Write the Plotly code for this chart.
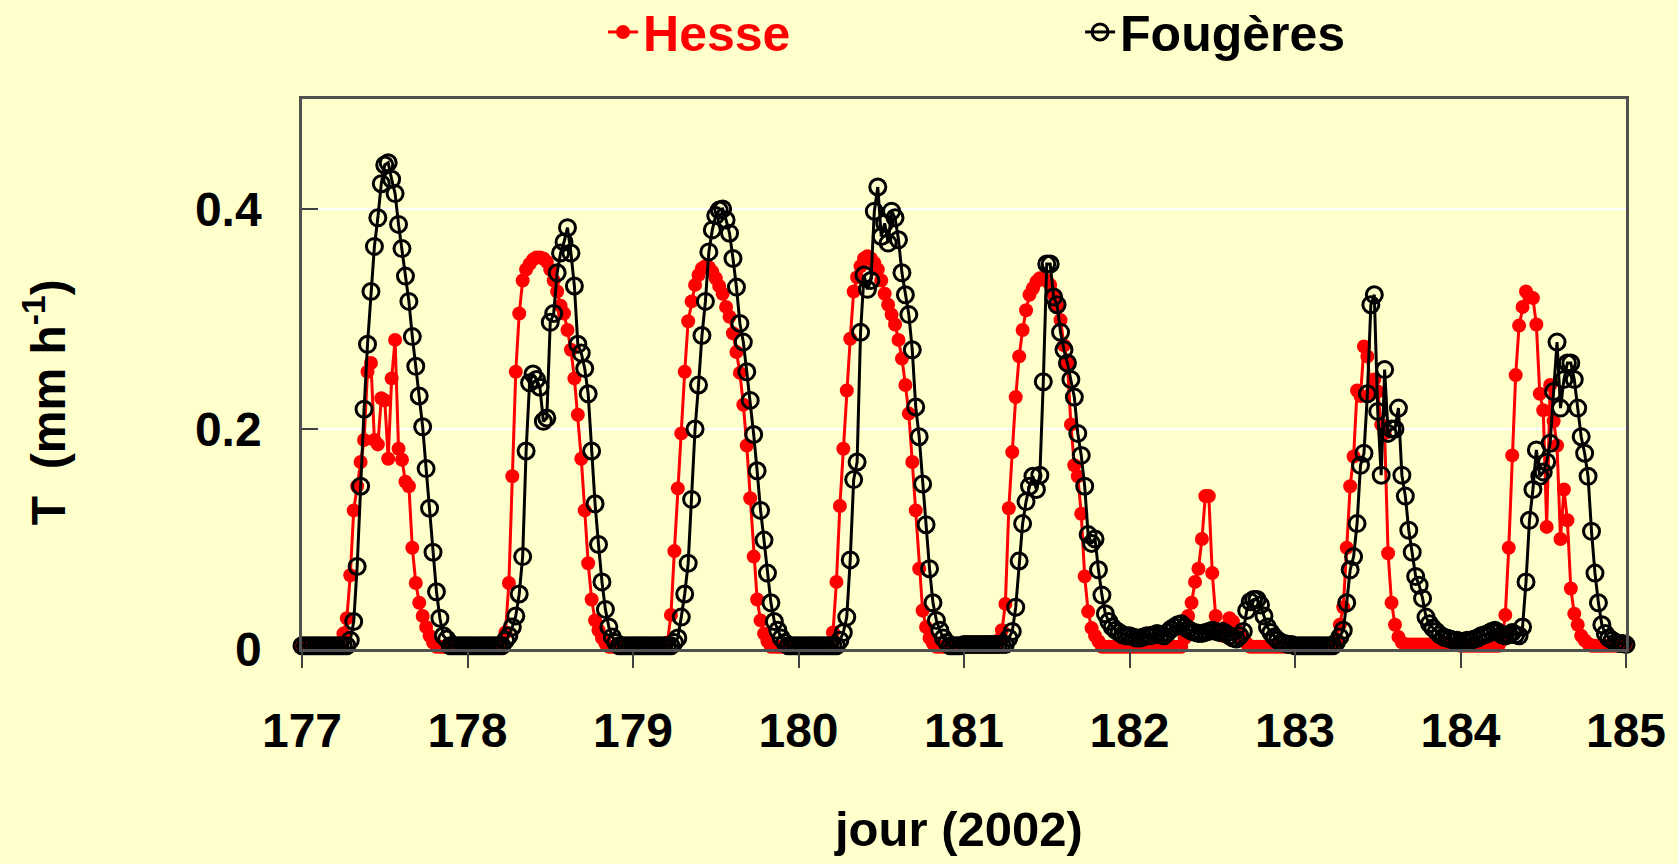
import numpy as np
import plotly.graph_objects as go

# ---------------- data (half-hourly transpiration, mm h-1) ----------------
hesse_177 = [0.002,0.002,0.002,0.002,0.002,0.002,0.002,0.002,0.002,0.002,0.002,0.002,
             0.014,0.028,0.067,0.126,0.148,0.170,0.190,0.252,0.260,0.190,0.186,0.228,
             0.226,0.173,0.246,0.281,0.182,0.172,0.152,0.148,0.092,0.060,0.042,0.030,
             0.020,0.012,0.006,0.002,0.002,0.002,0.002,0.002,0.002,0.002,0.002,0.002]
hesse_178 = [0.002,0.002,0.002,0.002,0.002,0.002,0.002,0.002,0.002,0.002,0.006,0.015,
             0.060,0.157,0.252,0.305,0.335,0.345,0.350,0.354,0.356,0.356,0.355,0.352,
             0.345,0.335,0.325,0.312,0.305,0.290,0.272,0.246,0.213,0.173,0.126,0.078,
             0.045,0.026,0.017,0.010,0.005,0.002,0.002,0.002,0.002,0.002,0.002,0.002]
hesse_179 = [0.002,0.002,0.002,0.002,0.002,0.002,0.002,0.002,0.002,0.002,0.006,0.031,
             0.089,0.146,0.196,0.252,0.298,0.316,0.331,0.340,0.346,0.348,0.347,0.343,
             0.337,0.330,0.323,0.311,0.302,0.287,0.270,0.251,0.222,0.185,0.137,0.084,
             0.045,0.026,0.014,0.007,0.002,0.002,0.002,0.002,0.002,0.002,0.002,0.002]
hesse_180 = [0.002,0.002,0.002,0.002,0.002,0.002,0.002,0.002,0.002,0.002,0.015,0.061,
             0.130,0.182,0.235,0.282,0.325,0.338,0.348,0.355,0.357,0.355,0.351,0.345,
             0.335,0.323,0.313,0.304,0.295,0.281,0.264,0.240,0.214,0.170,0.126,0.073,
             0.035,0.020,0.010,0.005,0.002,0.002,0.002,0.002,0.002,0.002,0.002,0.002]
hesse_181 = [0.002,0.002,0.002,0.002,0.002,0.002,0.002,0.002,0.002,0.002,0.008,0.017,
             0.041,0.128,0.179,0.229,0.266,0.290,0.308,0.322,0.328,0.334,0.337,0.336,
             0.335,0.331,0.322,0.312,0.299,0.276,0.260,0.204,0.167,0.157,0.123,0.066,
             0.034,0.019,0.012,0.007,0.002,0.002,0.002,0.002,0.002,0.002,0.002,0.002]
hesse_182 = [0.002,0.002,0.002,0.002,0.002,0.002,0.002,0.002,0.002,0.002,0.002,0.002,
             0.002,0.002,0.002,0.002,0.010,0.030,0.042,0.061,0.073,0.100,0.139,0.139,
             0.069,0.030,0.015,0.012,0.020,0.028,0.025,0.018,0.012,0.008,0.005,0.002,
             0.002,0.002,0.002,0.002,0.002,0.002,0.002,0.002,0.002,0.002,0.002,0.002]
hesse_183 = [0.002,0.002,0.002,0.002,0.002,0.002,0.002,0.002,0.002,0.002,0.002,0.002,
             0.008,0.022,0.038,0.092,0.148,0.175,0.235,0.230,0.275,0.266,0.232,0.245,
             0.234,0.204,0.196,0.087,0.042,0.022,0.011,0.006,0.004,0.004,0.004,0.004,
             0.004,0.004,0.004,0.004,0.004,0.004,0.004,0.004,0.004,0.004,0.004,0.004]
hesse_184 = [0.003,0.003,0.003,0.003,0.003,0.003,0.003,0.003,0.003,0.003,0.003,0.003,
             0.008,0.031,0.092,0.176,0.249,0.294,0.311,0.325,0.320,0.319,0.295,0.232,
             0.217,0.111,0.240,0.207,0.185,0.100,0.145,0.117,0.055,0.032,0.022,0.012,
             0.008,0.005,0.003,0.003,0.003,0.003,0.003,0.003,0.003,0.003,0.003,0.003]
hesse_185 = [0.003]

foug_177 = [0.003,0.003,0.003,0.003,0.003,0.003,0.003,0.003,0.003,0.003,0.003,0.003,
            0.003,0.003,0.008,0.025,0.075,0.148,0.218,0.277,0.325,0.366,0.392,0.423,
            0.440,0.442,0.427,0.414,0.386,0.364,0.339,0.316,0.284,0.257,0.230,0.202,
            0.164,0.128,0.088,0.052,0.028,0.012,0.009,0.003,0.003,0.003,0.003,0.003]
foug_178 = [0.003,0.003,0.003,0.003,0.003,0.003,0.003,0.003,0.003,0.003,0.003,0.008,
            0.012,0.020,0.030,0.050,0.084,0.180,0.242,0.250,0.245,0.238,0.207,0.210,
            0.297,0.305,0.342,0.360,0.370,0.383,0.360,0.330,0.277,0.269,0.255,0.232,
            0.180,0.132,0.095,0.061,0.036,0.020,0.011,0.006,0.003,0.003,0.003,0.003]
foug_179 = [0.003,0.003,0.003,0.003,0.003,0.003,0.003,0.003,0.003,0.003,0.003,0.003,
            0.006,0.010,0.029,0.050,0.078,0.136,0.200,0.240,0.285,0.316,0.361,0.381,
            0.394,0.399,0.400,0.390,0.378,0.355,0.329,0.296,0.279,0.252,0.226,0.195,
            0.162,0.126,0.099,0.069,0.042,0.025,0.017,0.010,0.006,0.003,0.003,0.003]
foug_180 = [0.003,0.003,0.003,0.003,0.003,0.003,0.003,0.003,0.003,0.003,0.003,0.003,
            0.008,0.015,0.029,0.081,0.154,0.170,0.288,0.340,0.327,0.335,0.398,0.420,
            0.375,0.387,0.369,0.398,0.392,0.372,0.342,0.322,0.304,0.272,0.220,0.193,
            0.150,0.113,0.073,0.042,0.026,0.017,0.010,0.006,0.003,0.003,0.003,0.003]
foug_181 = [0.004,0.004,0.004,0.004,0.004,0.004,0.004,0.004,0.004,0.004,0.004,0.004,
            0.004,0.010,0.016,0.038,0.080,0.114,0.134,0.148,0.157,0.145,0.158,0.243,
            0.350,0.350,0.320,0.313,0.288,0.272,0.260,0.245,0.229,0.196,0.176,0.148,
            0.104,0.096,0.100,0.072,0.049,0.032,0.025,0.020,0.017,0.015,0.013,0.012]
foug_182 = [0.012,0.011,0.010,0.010,0.011,0.012,0.012,0.013,0.014,0.013,0.012,0.015,
            0.018,0.020,0.022,0.023,0.020,0.018,0.016,0.015,0.014,0.014,0.015,0.016,
            0.017,0.016,0.015,0.016,0.014,0.012,0.010,0.009,0.012,0.016,0.035,0.043,
            0.045,0.045,0.040,0.030,0.020,0.015,0.011,0.008,0.006,0.005,0.004,0.004]
foug_183 = [0.003,0.003,0.003,0.003,0.003,0.003,0.003,0.003,0.003,0.003,0.003,0.003,
            0.006,0.011,0.017,0.042,0.072,0.084,0.114,0.167,0.178,0.232,0.313,0.322,
            0.216,0.158,0.254,0.196,0.200,0.200,0.219,0.158,0.139,0.108,0.088,0.066,
            0.058,0.046,0.029,0.023,0.019,0.016,0.013,0.011,0.010,0.009,0.008,0.008]
foug_184 = [0.006,0.007,0.008,0.008,0.009,0.010,0.012,0.013,0.014,0.016,0.017,0.015,
            0.013,0.012,0.013,0.015,0.013,0.012,0.020,0.061,0.117,0.145,0.181,0.157,
            0.161,0.170,0.187,0.234,0.279,0.219,0.245,0.260,0.260,0.245,0.219,0.193,
            0.178,0.157,0.107,0.069,0.042,0.022,0.014,0.010,0.008,0.006,0.005,0.005]
foug_185 = [0.004]

x_ticks = [177, 178, 179, 180, 181, 182, 183, 184, 185]
y_ticks = [0, 0.2, 0.4]
y_tick_labels = ["0", "0.2", "0.4"]
series_names = ["Hesse", "Fougères"]
x_title = "jour (2002)"
y_title = "T&nbsp; (mm h<sup>-1</sup>)"
first_day = 177
steps_per_day = 48

hesse = (hesse_177 + hesse_178 + hesse_179 + hesse_180 + hesse_181 +
         hesse_182 + hesse_183 + hesse_184 + hesse_185)
foug = (foug_177 + foug_178 + foug_179 + foug_180 + foug_181 +
        foug_182 + foug_183 + foug_184 + foug_185)
t = first_day + np.arange(len(hesse)) / steps_per_day

# ---------------- styling ----------------
BG = "#FFFFCC"
FONT = "Liberation Sans, Arial, sans-serif"

fig = go.Figure()
fig.add_trace(go.Scatter(
    x=t, y=hesse, mode="lines+markers",
    name='<span style="color:#FF0000">' + series_names[0] + '</span>',
    line=dict(color="#FF0000", width=3),
    marker=dict(symbol="circle", size=14, color="#FF0000"),
    cliponaxis=False,
))
fig.add_trace(go.Scatter(
    x=t, y=foug, mode="lines+markers",
    name=series_names[1],
    line=dict(color="#000000", width=3),
    marker=dict(symbol="circle-open", size=16, color="#000000",
                line=dict(width=3, color="#000000")),
    cliponaxis=False,
))

fig.update_layout(
    width=1678, height=864,
    paper_bgcolor=BG, plot_bgcolor=BG,
    margin=dict(l=302, r=52, t=99, b=215, pad=0),
    font=dict(family=FONT, size=48, color="#000000", weight="bold"),
    showlegend=True,
    legend=dict(
        orientation="h", xref="container", yref="container",
        x=0.3594, xanchor="left", y=0.963, yanchor="middle",
        bgcolor="rgba(0,0,0,0)", borderwidth=0,
        font=dict(family=FONT, size=50, color="#000000", weight="bold"),
        entrywidth=432, entrywidthmode="pixels", itemwidth=30,
    ),
    xaxis=dict(
        range=[x_ticks[0], x_ticks[-1]], tickmode="array", tickvals=x_ticks,
        ticks="outside", ticklen=16, tickwidth=1.5, tickcolor="#404040",
        showline=True, linecolor="#505050", linewidth=2.5, mirror=True,
        showgrid=False, zeroline=False,
        tickfont=dict(family=FONT, size=48, weight="bold"),
        ticklabelstandoff=22,
    ),
    yaxis=dict(
        range=[0, 0.5], tickmode="array", tickvals=y_ticks, ticktext=y_tick_labels,
        ticks="inside", ticklen=16, tickwidth=1.5, tickcolor="#404040",
        showline=True, linecolor="#505050", linewidth=2.5, mirror=True,
        showgrid=True, gridcolor="#FFFFFF", gridwidth=1.5, zeroline=False,
        tickfont=dict(family=FONT, size=48, weight="bold"),
        ticklabelstandoff=28,
    ),
    annotations=[
        dict(text=x_title, xref="paper", yref="paper", x=0.496, y=-0.327,
             xanchor="center", yanchor="middle", showarrow=False,
             font=dict(family=FONT, size=49, weight="bold", color="#000000")),
        dict(text=y_title, xref="paper", yref="paper", x=-0.194, y=0.449,
             xanchor="center", yanchor="middle", showarrow=False, textangle=-90,
             font=dict(family=FONT, size=48, weight="bold", color="#000000")),
    ],
)

fig.write_html("out.html",
               config={"displayModeBar": False},
               post_script="document.body.style.margin='0';document.body.style.padding='0';")
